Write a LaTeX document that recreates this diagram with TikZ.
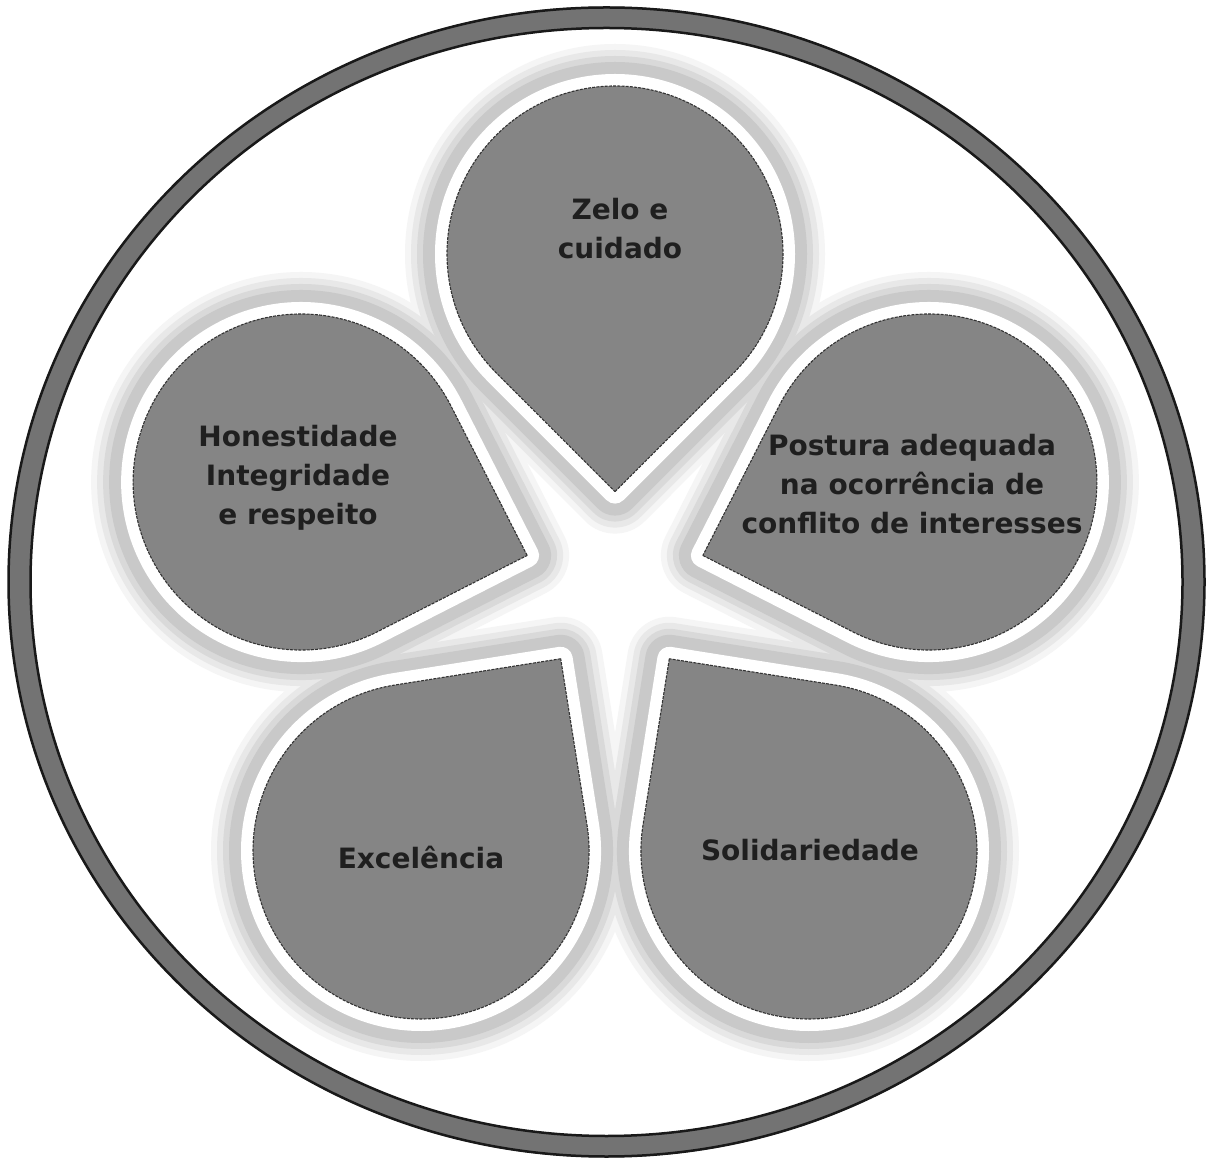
\documentclass[tikz,border=0pt]{standalone}
\usepackage{fontspec}
\setmainfont{DejaVu Sans}
\usetikzlibrary{calc}
\begin{document}
\begin{tikzpicture}[x=1pt,y=1pt,
  halo0/.style={draw=black!4, line width=84pt, line join=round},
  haloA/.style={draw=black!9, line width=72pt, line join=round},
  haloB/.style={draw=black!15, line width=60pt, line join=round},
  haloC/.style={draw=black!21, line width=48pt, line join=round},
  haloW/.style={draw=white, line width=24pt, line join=round},
  petal/.style={fill=black!48, draw=black!80, line width=1.1pt, dash pattern=on 3pt off 1.2pt, line join=miter},
  ringband/.style={draw=black!55, line width=22pt},
  ringedge/.style={draw=black!90, line width=2.5pt},
  lbl/.style={font=\fontsize{28}{39}\selectfont\bfseries, text=black!88, align=center}
]
\useasboundingbox (0,0) rectangle (1207,1163);
\fill[white] (0,0) rectangle (1207,1163);
\def\rr{168}
\def\dd{330}
\coordinate (C) at (615,579);
\coordinate (O) at (606.5,581);
% outer ring
\draw[ringband] (O) ellipse[x radius=587, y radius=564.5];
\draw[ringedge] (O) ellipse[x radius=598, y radius=574.5];
\draw[ringedge] (O) ellipse[x radius=576, y radius=554];
% petal reference points
\foreach \a/\n in {90/pa,162/pb,234/pc,306/pd,18/pe}{
  \coordinate (\n c) at ($(C)+(\a:\dd)$);
  \coordinate (\n t) at ($(C)+(\a:92.4)$);
}
% halos
\foreach \s in {halo0,haloA,haloB,haloC,haloW}{
  \foreach \a/\n in {90/pa,162/pb,234/pc,306/pd,18/pe}{
    \draw[\s] (\n t) -- ($(\n c)+(\a+225:\rr)$) arc[start angle=\a+225, delta angle=270, radius=\rr] -- cycle;
  }
}
% petals
\foreach \a/\n in {90/pa,162/pb,234/pc,306/pd,18/pe}{
  \draw[petal] (\n t) -- ($(\n c)+(\a+225:\rr)$) arc[start angle=\a+225, delta angle=270, radius=\rr] -- cycle;
}
% labels
\node[lbl] (zelo) at (620,934) {Zelo e\\cuidado};
\node[lbl] (hon) at (298,685) {Honestidade\\Integridade\\e respeito};
\node[lbl] (post) at (912,679) {Postura adequada\\na ocorrência de\\conflito de interesses};
\node[lbl] (exc) at (421,306) {Excelência};
\node[lbl] (sol) at (810,313) {Solidariedade};
\end{tikzpicture}
\end{document}
